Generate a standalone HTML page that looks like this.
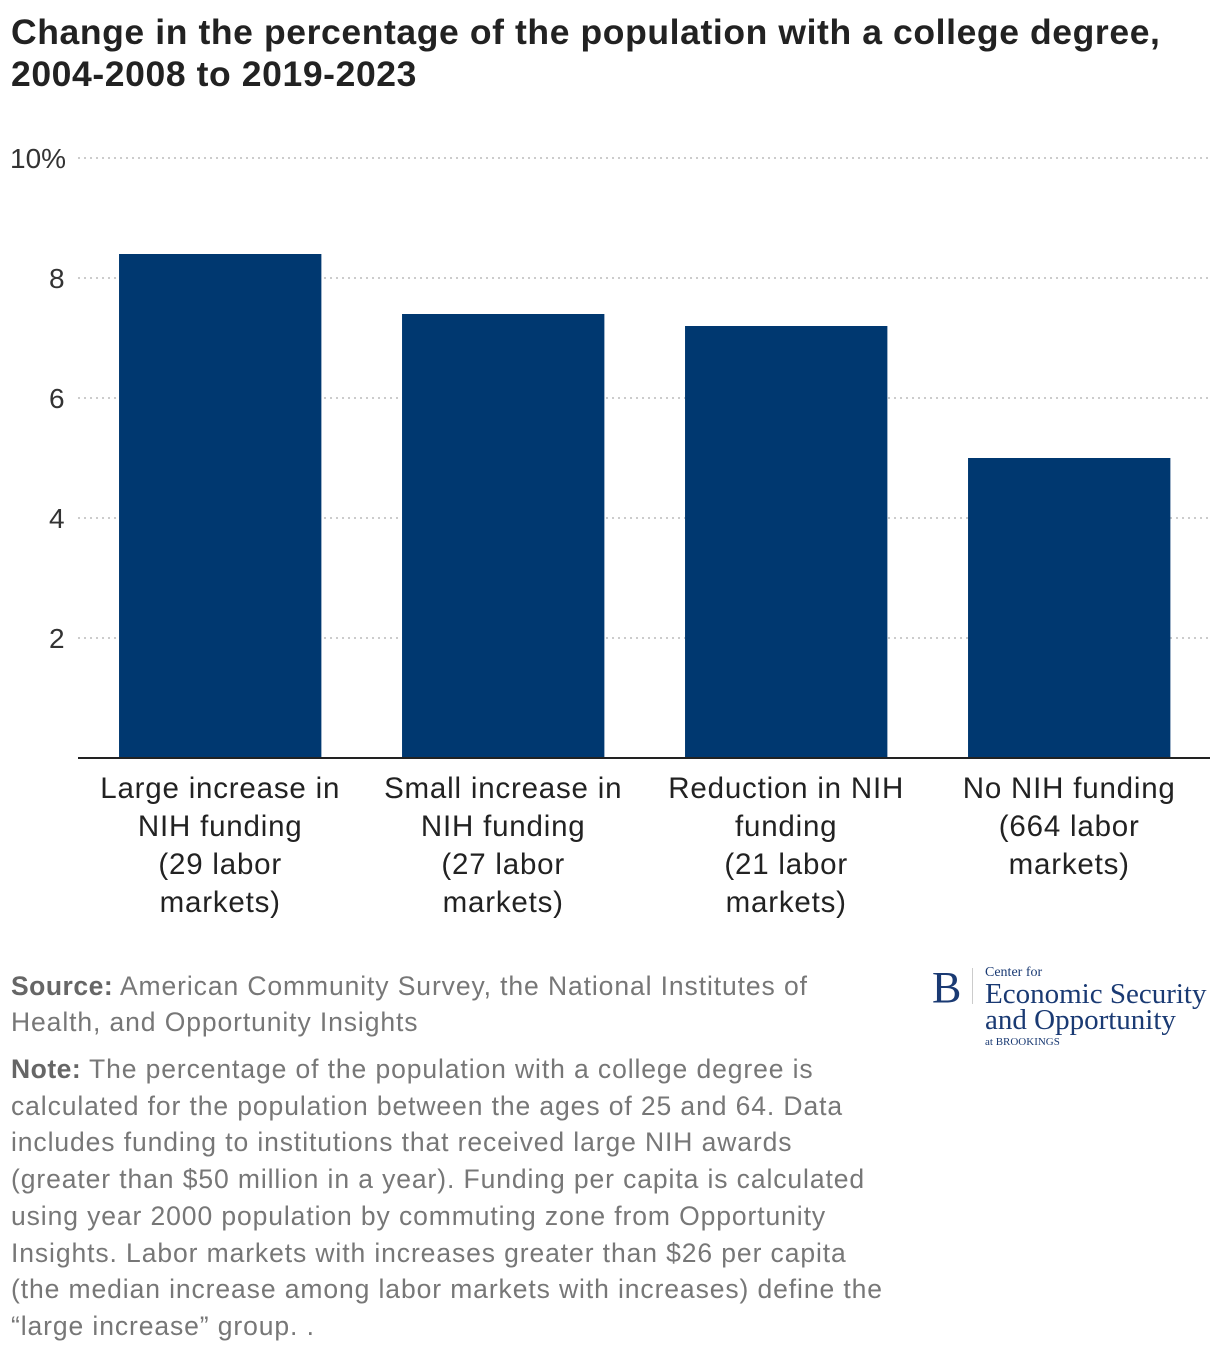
<!DOCTYPE html>
<html><head><meta charset="utf-8"><style>
body{margin:0;width:1220px;height:1356px;background:#fff;font-family:"Liberation Sans",sans-serif;position:relative;overflow:hidden}
#title{position:absolute;left:11px;top:11px;font-size:35.5px;letter-spacing:0.6px;font-weight:bold;line-height:42px;color:#222;margin:0;white-space:nowrap}
.notes{position:absolute;left:11px;font-size:26.5px;letter-spacing:0.9px;line-height:36px;color:#777;white-space:nowrap}
.notes b{color:#666;letter-spacing:0.5px}
#logo{position:absolute;left:932px;top:966px;font-family:"Liberation Serif",serif;color:#1a3a73}
</style></head><body>
<h1 id="title">Change in the percentage of the population with a college degree,<br>2004-2008 to 2019-2023</h1>
<svg id="chart" width="1220" height="940" style="position:absolute;left:0;top:0"></svg>
<div class="notes" style="top:968px"><b>Source:</b> American Community Survey, the National Institutes of<br>Health, and Opportunity Insights</div>
<div class="notes" style="top:1051px;line-height:36.7px"><b>Note:</b> The percentage of the population with a college degree is<br>calculated for the population between the ages of 25 and 64. Data<br>includes funding to institutions that received large NIH awards<br>(greater than $50 million in a year). Funding per capita is calculated<br>using year 2000 population by commuting zone from Opportunity<br>Insights. Labor markets with increases greater than $26 per capita<br>(the median increase among labor markets with increases) define the<br>“large increase” group. .</div>
<div id="logo">
<div style="position:absolute;left:0;top:0;font-size:44px;line-height:44px">B</div>
<div style="position:absolute;left:40px;top:2px;width:1px;height:36px;background:#ccc"></div>
<div style="position:absolute;left:53px;top:0;font-size:14px;line-height:14px;white-space:nowrap">Center for</div>
<div style="position:absolute;left:53px;top:15px;font-size:29px;line-height:26px;white-space:nowrap">Economic Security</div>
<div style="position:absolute;left:53px;top:41px;font-size:29px;line-height:26px;white-space:nowrap">and Opportunity</div>
<div style="position:absolute;left:53px;top:70px;font-size:11px;line-height:12px;white-space:nowrap">at BROOKINGS</div>
</div>
<script>
const categories=[["Large increase in","NIH funding","(29 labor","markets)"],["Small increase in","NIH funding","(27 labor","markets)"],["Reduction in NIH","funding","(21 labor","markets)"],["No NIH funding","(664 labor","markets)"]];
const values=[8.4,7.4,7.2,5.0];
const ticks=[2,4,6,8,10];
const tickLabels=["2","4","6","8","10%"];
const NS="http://www.w3.org/2000/svg";
const svg=document.getElementById('chart');
const x0=78,x1=1210,y0=758,yTop=158,maxV=10;
const y=v=>y0-(y0-yTop)*v/maxV;
const band=(x1-x0)/categories.length;
const bx=i=>x0+band*i+band*0.145;
const bw=band*0.715;
function mk(t,a){const e=document.createElementNS(NS,t);for(const k in a)e.setAttribute(k,a[k]);svg.appendChild(e);return e;}
ticks.forEach((t,i)=>{
 const l=mk('line',{x1:x0,x2:x1,y1:y(t),y2:y(t),stroke:'#bbb','stroke-width':1.5,'stroke-dasharray':'2,4'});
 
 
 const tx=mk('text',{x:i==ticks.length-1?10:49,y:y(t)+10,'font-size':28,fill:'#333','text-anchor':'start','font-family':'Liberation Sans,sans-serif'});
 tx.textContent=tickLabels[i];
 
 
});
values.forEach((v,i)=>{
 const r=mk('rect',{x:bx(i),y:y(v),width:bw,height:y0-y(v),fill:'#003870'});
 
 
 categories[i].forEach((s,j)=>{
  const t=mk('text',{x:bx(i)+bw/2,y:798+j*38,'font-size':29.5,'letter-spacing':0.8,fill:'#222','text-anchor':'middle','font-family':'Liberation Sans,sans-serif'});
  t.textContent=s;
  
  
 });
});
const ax=mk('line',{x1:x0,x2:x1,y1:y0,y2:y0,stroke:'#222','stroke-width':2});


</script>
</body></html>
